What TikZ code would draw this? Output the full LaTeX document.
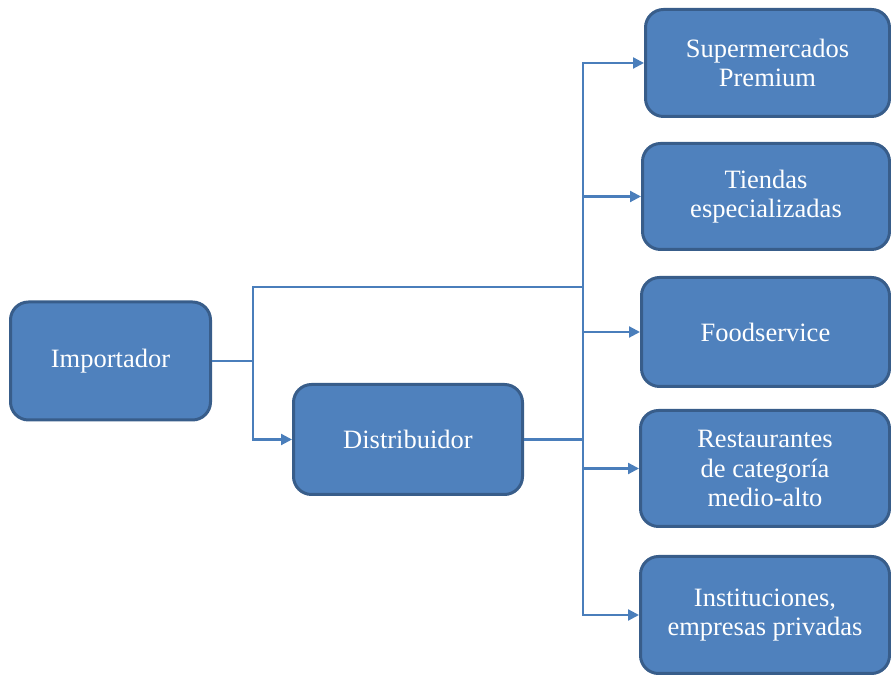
\documentclass[tikz,border=0pt]{standalone}
\usepackage{fontspec}
\setmainfont{Liberation Serif}
\usetikzlibrary{arrows.meta, calc, positioning}
\definecolor{BoxFill}{HTML}{4F81BD}
\definecolor{BoxDraw}{HTML}{385D8A}
\definecolor{LinkBlue}{HTML}{4A7EBB}
\tikzset{%
  block/.style={%
    rectangle,
    line width=3pt,
    draw=BoxDraw,
    fill=BoxFill,
    rounded corners=18pt,
    text=white,
    font={\fontsize{26.5}{29.5}\selectfont},
    align=center%
  },
  signal/.style={%
    color=LinkBlue,
    line width=2.2pt,
    line join=miter%
  },
  arrow/.style={-{Triangle[length=11pt, width=11pt]}}
}

\begin{document}
\begin{tikzpicture}[x=1pt, y=1pt]
    \useasboundingbox (0, 0) rectangle (891, 676);
    \node [block, minimum width=200, minimum height=118] (Importador) at (110.5, 315) {Importador};
    \node [block, minimum width=229, minimum height=110] (Distribuidor) at (408, 236.5) {Distribuidor};
    \node [block, minimum width=244, minimum height=107] (Supermercados) at (767.5, 613) {Supermercados\\Premium};
    \node [block, minimum width=247, minimum height=106] (Tiendas) at (766, 479.5) {Tiendas\\especializadas};
    \node [block, minimum width=248, minimum height=109] (Foodservice) at (765.5, 344) {Foodservice};
    \node [block, minimum width=249, minimum height=116] (Restaurantes) at (765, 207.5) {Restaurantes\\de categoría\\medio-alto};
    \node [block, minimum width=249, minimum height=117] (Instituciones) at (765, 61) {Instituciones,\\empresas privadas};
    \coordinate (Trunk) at (583, 0);
    \coordinate (Join) at (583, 389);

    \draw [arrow, signal]
      (Importador.east) -- ++(41, 0) |- (Distribuidor.west);
    \draw [signal]
      (Importador.east) -- ++(41, 0) |- (Join);
    \foreach \target in {Supermercados, Tiendas, Foodservice, Restaurantes, Instituciones}
      \draw [arrow, signal]
        (Distribuidor.east) -- (Distribuidor.east -| Trunk) |- (\target.west);
  \end{tikzpicture}
\end{document}
